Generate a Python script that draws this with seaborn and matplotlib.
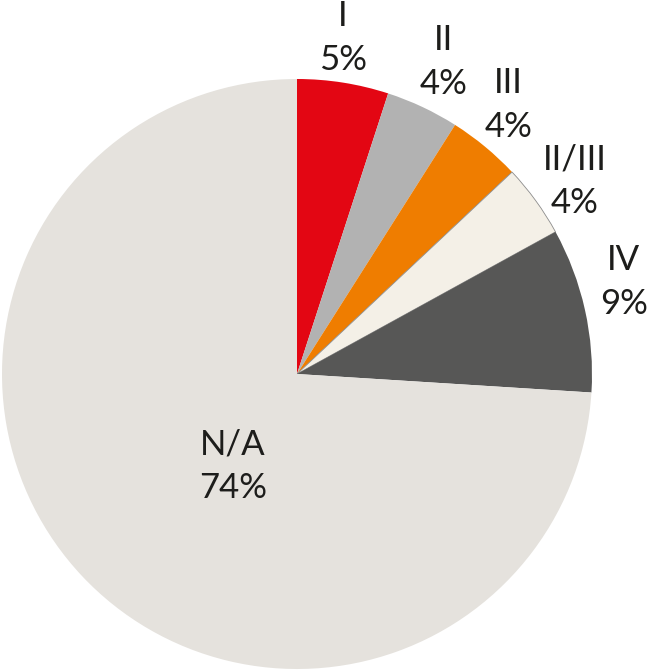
import numpy as np
import seaborn as sns
import matplotlib.pyplot as plt

# data
stages = ['I', 'II', 'III', 'II/III', 'IV', 'N/A']
shares = [5, 4, 4, 4, 9, 74]
colors = ['#e30613', '#b2b2b2', '#ef7d00', '#f4f0e7', '#575756', '#e5e2dd']

sns.set_style('white')
plt.rcParams['font.family'] = ['Lato', 'DejaVu Sans']

fig = plt.figure(figsize=(6.52, 6.72), dpi=100)
ax = fig.add_axes([0, 0, 1, 1])

wedges, _ = ax.pie(shares, colors=colors, startangle=90, counterclock=False,
                   radius=1.0, wedgeprops=dict(linewidth=0))
# thin outline on the pale slice only
wedges[3].set_edgecolor('#8c8c8c')
wedges[3].set_linewidth(0.6)

# label placement: outside for small slices, inside for the big one
label_r = [1.15, 1.17, 1.16, 1.145, 1.15, 0.38]
label_shift = [-1.2, 0.0, -1.4, 1.2, -3.1, -12.0]  # degrees, clockwise
for w, name, val, r, sh in zip(wedges, stages, shares, label_r, label_shift):
    mid = np.deg2rad((w.theta1 + w.theta2) / 2 - sh)
    ax.text(r * np.cos(mid), r * np.sin(mid), '{}\n{}%'.format(name, val),
            ha='center', va='center', fontsize=25, color='#1d1d1b',
            linespacing=1.45)

ax.set_aspect('equal')
ax.set_xlim(-297 / 295, (652 - 297) / 295)
ax.set_ylim(-298 / 295, (672 - 298) / 295)
ax.axis('off')

plt.savefig('out.png', dpi=100)
